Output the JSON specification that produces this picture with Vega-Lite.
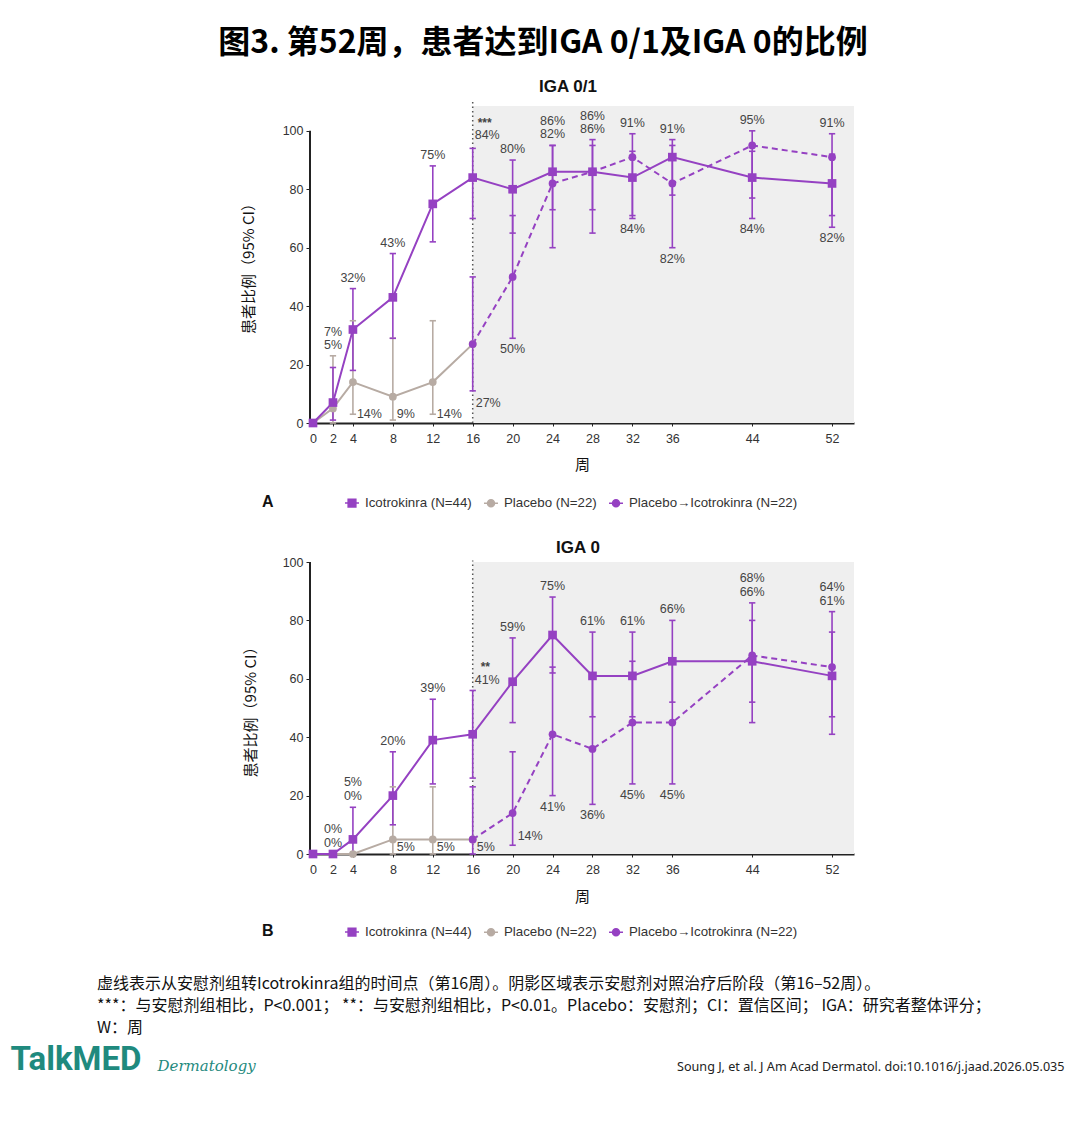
{
  "$schema": "https://vega.github.io/schema/vega-lite/v6.json",
  "background": "white",
  "padding": {"left": 10, "top": 26, "right": 10, "bottom": 10},
  "title": {"text": "图3. 第52周，患者达到IGA 0/1及IGA 0的比例", "font": "Noto Sans CJK SC", "fontSize": 32, "fontWeight": "bold", "color": "#000", "anchor": "middle", "offset": 18, "dx": 6},
  "datasets": {
    "ptsA": [
      {"group": "Placebo (N=22)", "week": 0, "value": 0, "lo": 0, "hi": 0},
      {"group": "Placebo (N=22)", "week": 2, "value": 5, "lo": 0, "hi": 23, "label": "5%", "place": "above", "line": 0},
      {"group": "Placebo (N=22)", "week": 4, "value": 14, "lo": 3, "hi": 35, "label": "14%", "place": "right", "line": 0},
      {"group": "Placebo (N=22)", "week": 8, "value": 9, "lo": 1, "hi": 29, "label": "9%", "place": "right", "line": 0},
      {"group": "Placebo (N=22)", "week": 12, "value": 14, "lo": 3, "hi": 35, "label": "14%", "place": "right", "line": 0},
      {"group": "Placebo (N=22)", "week": 16, "value": 27},
      {"group": "Icotrokinra (N=44)", "week": 0, "value": 0, "lo": 0, "hi": 0},
      {"group": "Icotrokinra (N=44)", "week": 2, "value": 7, "lo": 1, "hi": 19, "label": "7%", "place": "above", "line": 1},
      {"group": "Icotrokinra (N=44)", "week": 4, "value": 32, "lo": 18, "hi": 46, "label": "32%", "place": "above", "line": 0},
      {"group": "Icotrokinra (N=44)", "week": 8, "value": 43, "lo": 29, "hi": 58, "label": "43%", "place": "above", "line": 0},
      {"group": "Icotrokinra (N=44)", "week": 12, "value": 75, "lo": 62, "hi": 88, "label": "75%", "place": "above", "line": 0},
      {"group": "Icotrokinra (N=44)", "week": 16, "value": 84, "lo": 70, "hi": 94, "label": "84%", "place": "topright", "line": 0, "sig": "***"},
      {"group": "Icotrokinra (N=44)", "week": 20, "value": 80, "lo": 65, "hi": 90, "label": "80%", "place": "above", "line": 0},
      {"group": "Icotrokinra (N=44)", "week": 24, "value": 86, "lo": 73, "hi": 95, "label": "86%", "place": "above", "line": 1},
      {"group": "Icotrokinra (N=44)", "week": 28, "value": 86, "lo": 73, "hi": 95, "label": "86%", "place": "above", "line": 1},
      {"group": "Icotrokinra (N=44)", "week": 32, "value": 84, "lo": 70, "hi": 93, "label": "84%", "place": "below", "line": 0},
      {"group": "Icotrokinra (N=44)", "week": 36, "value": 91, "lo": 78, "hi": 97, "label": "91%", "place": "above", "line": 0},
      {"group": "Icotrokinra (N=44)", "week": 44, "value": 84, "lo": 70, "hi": 93, "label": "84%", "place": "below", "line": 0},
      {"group": "Icotrokinra (N=44)", "week": 52, "value": 82, "lo": 67, "hi": 92, "label": "82%", "place": "below", "line": 0},
      {"group": "Placebo→Icotrokinra (N=22)", "week": 16, "value": 27, "lo": 11, "hi": 50, "label": "27%", "place": "right", "line": 1},
      {"group": "Placebo→Icotrokinra (N=22)", "week": 20, "value": 50, "lo": 29, "hi": 71, "label": "50%", "place": "below", "line": 0},
      {"group": "Placebo→Icotrokinra (N=22)", "week": 24, "value": 82, "lo": 60, "hi": 95, "label": "82%", "place": "above", "line": 0},
      {"group": "Placebo→Icotrokinra (N=22)", "week": 28, "value": 86, "lo": 65, "hi": 97, "label": "86%", "place": "above", "line": 0},
      {"group": "Placebo→Icotrokinra (N=22)", "week": 32, "value": 91, "lo": 71, "hi": 99, "label": "91%", "place": "above", "line": 0},
      {"group": "Placebo→Icotrokinra (N=22)", "week": 36, "value": 82, "lo": 60, "hi": 95, "label": "82%", "place": "below", "line": 0},
      {"group": "Placebo→Icotrokinra (N=22)", "week": 44, "value": 95, "lo": 77, "hi": 100, "label": "95%", "place": "above", "line": 0},
      {"group": "Placebo→Icotrokinra (N=22)", "week": 52, "value": 91, "lo": 71, "hi": 99, "label": "91%", "place": "above", "line": 0}
    ],
    "ptsB": [
      {"group": "Placebo (N=22)", "week": 0, "value": 0, "lo": 0, "hi": 0},
      {"group": "Placebo (N=22)", "week": 2, "value": 0, "lo": 0, "hi": 0, "label": "0%", "place": "above", "line": 0},
      {"group": "Placebo (N=22)", "week": 4, "value": 0, "lo": 0, "hi": 0, "label": "0%", "place": "above", "line": 0},
      {"group": "Placebo (N=22)", "week": 8, "value": 5, "lo": 0, "hi": 23, "label": "5%", "place": "right", "line": 0},
      {"group": "Placebo (N=22)", "week": 12, "value": 5, "lo": 0, "hi": 23, "label": "5%", "place": "right", "line": 0},
      {"group": "Placebo (N=22)", "week": 16, "value": 5},
      {"group": "Icotrokinra (N=44)", "week": 0, "value": 0, "lo": 0, "hi": 0},
      {"group": "Icotrokinra (N=44)", "week": 2, "value": 0, "lo": 0, "hi": 0, "label": "0%", "place": "above", "line": 1},
      {"group": "Icotrokinra (N=44)", "week": 4, "value": 5, "lo": 0, "hi": 16, "label": "5%", "place": "above", "line": 1},
      {"group": "Icotrokinra (N=44)", "week": 8, "value": 20, "lo": 10, "hi": 35, "label": "20%", "place": "above", "line": 0},
      {"group": "Icotrokinra (N=44)", "week": 12, "value": 39, "lo": 24, "hi": 53, "label": "39%", "place": "above", "line": 0},
      {"group": "Icotrokinra (N=44)", "week": 16, "value": 41, "lo": 26, "hi": 56, "label": "41%", "place": "topright", "line": 0, "sig": "**"},
      {"group": "Icotrokinra (N=44)", "week": 20, "value": 59, "lo": 45, "hi": 74, "label": "59%", "place": "above", "line": 0},
      {"group": "Icotrokinra (N=44)", "week": 24, "value": 75, "lo": 62, "hi": 88, "label": "75%", "place": "above", "line": 0},
      {"group": "Icotrokinra (N=44)", "week": 28, "value": 61, "lo": 47, "hi": 76, "label": "61%", "place": "above", "line": 0},
      {"group": "Icotrokinra (N=44)", "week": 32, "value": 61, "lo": 47, "hi": 76, "label": "61%", "place": "above", "line": 0},
      {"group": "Icotrokinra (N=44)", "week": 36, "value": 66, "lo": 52, "hi": 80, "label": "66%", "place": "above", "line": 0},
      {"group": "Icotrokinra (N=44)", "week": 44, "value": 66, "lo": 52, "hi": 80, "label": "66%", "place": "above", "line": 0},
      {"group": "Icotrokinra (N=44)", "week": 52, "value": 61, "lo": 47, "hi": 76, "label": "61%", "place": "above", "line": 0},
      {"group": "Placebo→Icotrokinra (N=22)", "week": 16, "value": 5, "lo": 0, "hi": 23, "label": "5%", "place": "right", "line": 0},
      {"group": "Placebo→Icotrokinra (N=22)", "week": 20, "value": 14, "lo": 3, "hi": 35, "label": "14%", "place": "right", "line": 1},
      {"group": "Placebo→Icotrokinra (N=22)", "week": 24, "value": 41, "lo": 20, "hi": 64, "label": "41%", "place": "below", "line": 0},
      {"group": "Placebo→Icotrokinra (N=22)", "week": 28, "value": 36, "lo": 17, "hi": 60, "label": "36%", "place": "below", "line": 0},
      {"group": "Placebo→Icotrokinra (N=22)", "week": 32, "value": 45, "lo": 24, "hi": 66, "label": "45%", "place": "below", "line": 0},
      {"group": "Placebo→Icotrokinra (N=22)", "week": 36, "value": 45, "lo": 24, "hi": 66, "label": "45%", "place": "below", "line": 0},
      {"group": "Placebo→Icotrokinra (N=22)", "week": 44, "value": 68, "lo": 45, "hi": 86, "label": "68%", "place": "above", "line": 1},
      {"group": "Placebo→Icotrokinra (N=22)", "week": 52, "value": 64, "lo": 41, "hi": 83, "label": "64%", "place": "above", "line": 1}
    ]
  },
  "vconcat": [
    {
      "title": {"text": "IGA 0/1", "font": "Liberation Sans", "fontSize": 17, "fontWeight": "bold", "color": "#111", "offset": 5, "dx": -14},
      "width": 544,
      "height": 317,
      "layer": [
        {
          "data": {"values": [{}]},
          "mark": {"type": "rect", "color": "#efefef"},
          "encoding": {
            "x": {"datum": 16, "type": "quantitative", "scale": {"domain": [-0.3, 54.2], "nice": false, "zero": false}},
            "x2": {"datum": 54.2},
            "y": {"datum": 0, "type": "quantitative", "scale": {"domain": [0, 108.5], "nice": false}},
            "y2": {"datum": 108.5}
          }
        },
        {
          "data": {"values": [{}]},
          "mark": {"type": "rule", "color": "#555", "strokeWidth": 1.5, "strokeDash": [1.5, 3]},
          "encoding": {
            "x": {"datum": 16, "type": "quantitative", "scale": {"domain": [-0.3, 54.2], "nice": false, "zero": false}},
            "y": {"datum": 0, "type": "quantitative", "scale": {"domain": [0, 108.5], "nice": false}},
            "y2": {"datum": 110}
          }
        },
        {
          "data": {"values": [{}]},
          "mark": {"type": "rule", "color": "#222", "strokeWidth": 2},
          "encoding": {
            "x": {"datum": -0.3, "type": "quantitative", "scale": {"domain": [-0.3, 54.2], "nice": false, "zero": false}},
            "y": {"datum": 0, "type": "quantitative", "scale": {"domain": [0, 108.5], "nice": false}},
            "y2": {"datum": 100}
          }
        },
        {
          "data": {"name": "ptsA"},
          "transform": [{"filter": "datum.hi > datum.lo"}],
          "mark": {"type": "rule", "strokeWidth": 1.6},
          "encoding": {
            "x": {"field": "week", "type": "quantitative", "scale": {"domain": [-0.3, 54.2], "nice": false, "zero": false},
              "axis": {"values": [0, 2, 4, 8, 12, 16, 20, 24, 28, 32, 36, 44, 52], "title": "周", "titleFont": "Noto Sans CJK SC", "titleFontSize": 15, "titleFontWeight": "normal", "titleColor": "#111", "titlePadding": 13, "labelFont": "Liberation Sans", "labelFontSize": 12.5, "labelColor": "#333", "labelPadding": 6, "labelFlush": false, "domainColor": "#222", "domainWidth": 2, "tickColor": "#222", "tickSize": 3, "grid": false}},
            "y": {"field": "lo", "type": "quantitative", "scale": {"domain": [0, 108.5], "nice": false},
              "axis": {"values": [0, 20, 40, 60, 80, 100], "title": "患者比例（95% CI）", "titleFont": "Noto Sans CJK SC", "titleFontSize": 15, "titleFontWeight": "normal", "titleColor": "#111", "titlePadding": 26, "labelFont": "Liberation Sans", "labelFontSize": 12.5, "labelColor": "#333", "labelPadding": 3, "labelFlush": false, "domain": false, "tickColor": "#222", "tickSize": 4, "grid": false}},
            "y2": {"field": "hi"},
            "color": {"field": "group", "type": "nominal", "scale": {"domain": ["Icotrokinra (N=44)", "Placebo (N=22)", "Placebo→Icotrokinra (N=22)"], "range": ["#9541c2", "#b7aba3", "#9541c2"]}}
          }
        },
        {
          "data": {"name": "ptsA"},
          "transform": [{"filter": "datum.hi > datum.lo"}, {"fold": ["lo", "hi"], "as": ["end", "cap"]}],
          "mark": {"type": "point", "shape": "stroke", "size": 40, "strokeWidth": 1.6, "filled": false, "opacity": 1},
          "encoding": {
            "x": {"field": "week", "type": "quantitative", "scale": {"domain": [-0.3, 54.2], "nice": false, "zero": false}},
            "y": {"field": "cap", "type": "quantitative", "scale": {"domain": [0, 108.5], "nice": false}},
            "color": {"field": "group", "type": "nominal", "scale": {"domain": ["Icotrokinra (N=44)", "Placebo (N=22)", "Placebo→Icotrokinra (N=22)"], "range": ["#9541c2", "#b7aba3", "#9541c2"]}}
          }
        },
        {
          "data": {"name": "ptsA"},
          "transform": [{"filter": "datum.group !== 'Placebo→Icotrokinra (N=22)'"}],
          "mark": {"type": "line", "strokeWidth": 2},
          "encoding": {
            "x": {"field": "week", "type": "quantitative", "scale": {"domain": [-0.3, 54.2], "nice": false, "zero": false}},
            "y": {"field": "value", "type": "quantitative", "scale": {"domain": [0, 108.5], "nice": false}},
            "color": {"field": "group", "type": "nominal", "scale": {"domain": ["Icotrokinra (N=44)", "Placebo (N=22)", "Placebo→Icotrokinra (N=22)"], "range": ["#9541c2", "#b7aba3", "#9541c2"]}}
          }
        },
        {
          "data": {"name": "ptsA"},
          "transform": [{"filter": "datum.group === 'Placebo→Icotrokinra (N=22)'"}],
          "mark": {"type": "line", "strokeWidth": 2, "strokeDash": [6, 4]},
          "encoding": {
            "x": {"field": "week", "type": "quantitative", "scale": {"domain": [-0.3, 54.2], "nice": false, "zero": false}},
            "y": {"field": "value", "type": "quantitative", "scale": {"domain": [0, 108.5], "nice": false}},
            "color": {"field": "group", "type": "nominal", "scale": {"domain": ["Icotrokinra (N=44)", "Placebo (N=22)", "Placebo→Icotrokinra (N=22)"], "range": ["#9541c2", "#b7aba3", "#9541c2"]}}
          }
        },
        {
          "data": {"name": "ptsA"},
          "transform": [{"filter": "datum.group !== 'Icotrokinra (N=44)'"}],
          "mark": {"type": "point", "shape": "circle", "filled": true, "size": 60, "opacity": 1},
          "encoding": {
            "x": {"field": "week", "type": "quantitative", "scale": {"domain": [-0.3, 54.2], "nice": false, "zero": false}},
            "y": {"field": "value", "type": "quantitative", "scale": {"domain": [0, 108.5], "nice": false}},
            "color": {"field": "group", "type": "nominal", "scale": {"domain": ["Icotrokinra (N=44)", "Placebo (N=22)", "Placebo→Icotrokinra (N=22)"], "range": ["#9541c2", "#b7aba3", "#9541c2"]},
              "legend": {"title": "A", "orient": "none", "legendX": -48, "legendY": 389, "direction": "horizontal", "titleOrient": "left", "titleFont": "Liberation Sans", "titleFontSize": 16, "titleFontWeight": "bold", "titleColor": "#111", "titlePadding": 70, "titleBaseline": "middle", "labelFont": "Liberation Sans", "labelFontSize": 13.3, "labelColor": "#333", "labelOffset": 5, "labelLimit": 300, "columnPadding": 9, "symbolSize": 196, "symbolStrokeWidth": 1.5, "symbolType": "M-1,0L1,0M0.5,0A0.5,0.5,0,1,1,-0.5,0A0.5,0.5,0,1,1,0.5,0Z",
                "encoding": {"symbols": {
                  "shape": {"condition": {"test": "datum.value === 'Icotrokinra (N=44)'", "value": "M-1,0L1,0M-0.55,-0.55L0.55,-0.55L0.55,0.55L-0.55,0.55Z"}, "value": "M-1,0L1,0M0.5,0A0.5,0.5,0,1,1,-0.5,0A0.5,0.5,0,1,1,0.5,0Z"},
                  "fill": {"condition": {"test": "datum.value === 'Placebo (N=22)'", "value": "#b7aba3"}, "value": "#9541c2"},
                  "stroke": {"condition": {"test": "datum.value === 'Placebo (N=22)'", "value": "#b7aba3"}, "value": "#9541c2"},
                  "opacity": {"value": 1}
                }}}}
          }
        },
        {
          "data": {"name": "ptsA"},
          "transform": [{"filter": "datum.group === 'Icotrokinra (N=44)'"}],
          "mark": {"type": "point", "shape": "square", "filled": true, "size": 75, "opacity": 1},
          "encoding": {
            "x": {"field": "week", "type": "quantitative", "scale": {"domain": [-0.3, 54.2], "nice": false, "zero": false}},
            "y": {"field": "value", "type": "quantitative", "scale": {"domain": [0, 108.5], "nice": false}},
            "color": {"field": "group", "type": "nominal", "scale": {"domain": ["Icotrokinra (N=44)", "Placebo (N=22)", "Placebo→Icotrokinra (N=22)"], "range": ["#9541c2", "#b7aba3", "#9541c2"]}}
          }
        },
        {
          "data": {"name": "ptsA"},
          "transform": [{"joinaggregate": [{"op": "max", "field": "hi", "as": "top"}], "groupby": ["week"]}, {"filter": "datum.place === 'above' && datum.line === 0"}],
          "mark": {"type": "text", "font": "Liberation Sans", "fontSize": 12.5, "color": "#444", "baseline": "middle", "dy": -11},
          "encoding": {
            "x": {"field": "week", "type": "quantitative", "scale": {"domain": [-0.3, 54.2], "nice": false, "zero": false}},
            "y": {"field": "top", "type": "quantitative", "scale": {"domain": [0, 108.5], "nice": false}},
            "text": {"field": "label"}
          }
        },
        {
          "data": {"name": "ptsA"},
          "transform": [{"joinaggregate": [{"op": "max", "field": "hi", "as": "top"}], "groupby": ["week"]}, {"filter": "datum.place === 'above' && datum.line === 1"}],
          "mark": {"type": "text", "font": "Liberation Sans", "fontSize": 12.5, "color": "#444", "baseline": "middle", "dy": -24},
          "encoding": {
            "x": {"field": "week", "type": "quantitative", "scale": {"domain": [-0.3, 54.2], "nice": false, "zero": false}},
            "y": {"field": "top", "type": "quantitative", "scale": {"domain": [0, 108.5], "nice": false}},
            "text": {"field": "label"}
          }
        },
        {
          "data": {"name": "ptsA"},
          "transform": [{"joinaggregate": [{"op": "min", "field": "lo", "as": "bottom"}], "groupby": ["week"]}, {"filter": "datum.place === 'below'"}],
          "mark": {"type": "text", "font": "Liberation Sans", "fontSize": 12.5, "color": "#444", "baseline": "middle", "dy": 11},
          "encoding": {
            "x": {"field": "week", "type": "quantitative", "scale": {"domain": [-0.3, 54.2], "nice": false, "zero": false}},
            "y": {"field": "bottom", "type": "quantitative", "scale": {"domain": [0, 108.5], "nice": false}},
            "text": {"field": "label"}
          }
        },
        {
          "data": {"name": "ptsA"},
          "transform": [{"filter": "datum.place === 'right' && datum.line === 0"}],
          "mark": {"type": "text", "font": "Liberation Sans", "fontSize": 12.5, "color": "#444", "baseline": "middle", "align": "left", "dx": 4, "dy": -9},
          "encoding": {
            "x": {"field": "week", "type": "quantitative", "scale": {"domain": [-0.3, 54.2], "nice": false, "zero": false}},
            "y": {"datum": 0, "type": "quantitative", "scale": {"domain": [0, 108.5], "nice": false}},
            "text": {"field": "label"}
          }
        },
        {
          "data": {"name": "ptsA"},
          "transform": [{"filter": "datum.place === 'right' && datum.line === 1"}],
          "mark": {"type": "text", "font": "Liberation Sans", "fontSize": 12.5, "color": "#444", "baseline": "middle", "align": "left", "dx": 3, "dy": -20},
          "encoding": {
            "x": {"field": "week", "type": "quantitative", "scale": {"domain": [-0.3, 54.2], "nice": false, "zero": false}},
            "y": {"datum": 0, "type": "quantitative", "scale": {"domain": [0, 108.5], "nice": false}},
            "text": {"field": "label"}
          }
        },
        {
          "data": {"name": "ptsA"},
          "transform": [{"joinaggregate": [{"op": "max", "field": "hi", "as": "top"}], "groupby": ["week"]}, {"filter": "datum.place === 'topright'"}],
          "mark": {"type": "text", "font": "Liberation Sans", "fontSize": 12.5, "color": "#444", "baseline": "middle", "align": "left", "dx": 2, "dy": -13},
          "encoding": {
            "x": {"field": "week", "type": "quantitative", "scale": {"domain": [-0.3, 54.2], "nice": false, "zero": false}},
            "y": {"field": "top", "type": "quantitative", "scale": {"domain": [0, 108.5], "nice": false}},
            "text": {"field": "label"}
          }
        },
        {
          "data": {"name": "ptsA"},
          "transform": [{"joinaggregate": [{"op": "max", "field": "hi", "as": "top"}], "groupby": ["week"]}, {"filter": "isValid(datum.sig)"}],
          "mark": {"type": "text", "font": "Liberation Sans", "fontSize": 12, "fontWeight": "bold", "color": "#444", "baseline": "middle", "align": "left", "dx": 5, "dy": -25},
          "encoding": {
            "x": {"field": "week", "type": "quantitative", "scale": {"domain": [-0.3, 54.2], "nice": false, "zero": false}},
            "y": {"field": "top", "type": "quantitative", "scale": {"domain": [0, 108.5], "nice": false}},
            "text": {"field": "sig"}
          }
        }
      ]
    },
    {
      "title": {"text": "IGA 0", "font": "Liberation Sans", "fontSize": 17, "fontWeight": "bold", "color": "#111", "offset": -1, "dx": -4},
      "width": 544,
      "height": 292,
      "layer": [
        {
          "data": {"values": [{}]},
          "mark": {"type": "rect", "color": "#efefef"},
          "encoding": {
            "x": {"datum": 16, "type": "quantitative", "scale": {"domain": [-0.3, 54.2], "nice": false, "zero": false}},
            "x2": {"datum": 54.2},
            "y": {"datum": 0, "type": "quantitative", "scale": {"domain": [0, 100], "nice": false}},
            "y2": {"datum": 100}
          }
        },
        {
          "data": {"values": [{}]},
          "mark": {"type": "rule", "color": "#555", "strokeWidth": 1.5, "strokeDash": [1.5, 3]},
          "encoding": {
            "x": {"datum": 16, "type": "quantitative", "scale": {"domain": [-0.3, 54.2], "nice": false, "zero": false}},
            "y": {"datum": 0, "type": "quantitative", "scale": {"domain": [0, 100], "nice": false}},
            "y2": {"datum": 100.5}
          }
        },
        {
          "data": {"values": [{}]},
          "mark": {"type": "rule", "color": "#222", "strokeWidth": 2},
          "encoding": {
            "x": {"datum": -0.3, "type": "quantitative", "scale": {"domain": [-0.3, 54.2], "nice": false, "zero": false}},
            "y": {"datum": 0, "type": "quantitative", "scale": {"domain": [0, 100], "nice": false}},
            "y2": {"datum": 100}
          }
        },
        {
          "data": {"name": "ptsB"},
          "transform": [{"filter": "datum.hi > datum.lo"}],
          "mark": {"type": "rule", "strokeWidth": 1.6},
          "encoding": {
            "x": {"field": "week", "type": "quantitative", "scale": {"domain": [-0.3, 54.2], "nice": false, "zero": false},
              "axis": {"values": [0, 2, 4, 8, 12, 16, 20, 24, 28, 32, 36, 44, 52], "title": "周", "titleFont": "Noto Sans CJK SC", "titleFontSize": 15, "titleFontWeight": "normal", "titleColor": "#111", "titlePadding": 14, "labelFont": "Liberation Sans", "labelFontSize": 12.5, "labelColor": "#333", "labelPadding": 6, "labelFlush": false, "domainColor": "#222", "domainWidth": 2, "tickColor": "#222", "tickSize": 3, "grid": false}},
            "y": {"field": "lo", "type": "quantitative", "scale": {"domain": [0, 100], "nice": false},
              "axis": {"values": [0, 20, 40, 60, 80, 100], "title": "患者比例（95% CI）", "titleFont": "Noto Sans CJK SC", "titleFontSize": 15, "titleFontWeight": "normal", "titleColor": "#111", "titlePadding": 24, "labelFont": "Liberation Sans", "labelFontSize": 12.5, "labelColor": "#333", "labelPadding": 3, "labelFlush": false, "domain": false, "tickColor": "#222", "tickSize": 4, "grid": false}},
            "y2": {"field": "hi"},
            "color": {"field": "group", "type": "nominal", "scale": {"domain": ["Icotrokinra (N=44)", "Placebo (N=22)", "Placebo→Icotrokinra (N=22)"], "range": ["#9541c2", "#b7aba3", "#9541c2"]}}
          }
        },
        {
          "data": {"name": "ptsB"},
          "transform": [{"filter": "datum.hi > datum.lo"}, {"fold": ["lo", "hi"], "as": ["end", "cap"]}],
          "mark": {"type": "point", "shape": "stroke", "size": 40, "strokeWidth": 1.6, "filled": false, "opacity": 1},
          "encoding": {
            "x": {"field": "week", "type": "quantitative", "scale": {"domain": [-0.3, 54.2], "nice": false, "zero": false}},
            "y": {"field": "cap", "type": "quantitative", "scale": {"domain": [0, 100], "nice": false}},
            "color": {"field": "group", "type": "nominal", "scale": {"domain": ["Icotrokinra (N=44)", "Placebo (N=22)", "Placebo→Icotrokinra (N=22)"], "range": ["#9541c2", "#b7aba3", "#9541c2"]}}
          }
        },
        {
          "data": {"name": "ptsB"},
          "transform": [{"filter": "datum.group !== 'Placebo→Icotrokinra (N=22)'"}],
          "mark": {"type": "line", "strokeWidth": 2},
          "encoding": {
            "x": {"field": "week", "type": "quantitative", "scale": {"domain": [-0.3, 54.2], "nice": false, "zero": false}},
            "y": {"field": "value", "type": "quantitative", "scale": {"domain": [0, 100], "nice": false}},
            "color": {"field": "group", "type": "nominal", "scale": {"domain": ["Icotrokinra (N=44)", "Placebo (N=22)", "Placebo→Icotrokinra (N=22)"], "range": ["#9541c2", "#b7aba3", "#9541c2"]}}
          }
        },
        {
          "data": {"name": "ptsB"},
          "transform": [{"filter": "datum.group === 'Placebo→Icotrokinra (N=22)'"}],
          "mark": {"type": "line", "strokeWidth": 2, "strokeDash": [6, 4]},
          "encoding": {
            "x": {"field": "week", "type": "quantitative", "scale": {"domain": [-0.3, 54.2], "nice": false, "zero": false}},
            "y": {"field": "value", "type": "quantitative", "scale": {"domain": [0, 100], "nice": false}},
            "color": {"field": "group", "type": "nominal", "scale": {"domain": ["Icotrokinra (N=44)", "Placebo (N=22)", "Placebo→Icotrokinra (N=22)"], "range": ["#9541c2", "#b7aba3", "#9541c2"]}}
          }
        },
        {
          "data": {"name": "ptsB"},
          "transform": [{"filter": "datum.group !== 'Icotrokinra (N=44)'"}],
          "mark": {"type": "point", "shape": "circle", "filled": true, "size": 60, "opacity": 1},
          "encoding": {
            "x": {"field": "week", "type": "quantitative", "scale": {"domain": [-0.3, 54.2], "nice": false, "zero": false}},
            "y": {"field": "value", "type": "quantitative", "scale": {"domain": [0, 100], "nice": false}},
            "color": {"field": "group", "type": "nominal", "scale": {"domain": ["Icotrokinra (N=44)", "Placebo (N=22)", "Placebo→Icotrokinra (N=22)"], "range": ["#9541c2", "#b7aba3", "#9541c2"]},
              "legend": {"title": "B", "orient": "none", "legendX": -56, "legendY": 354, "padding": 8, "direction": "horizontal", "titleOrient": "left", "titleFont": "Liberation Sans", "titleFontSize": 16, "titleFontWeight": "bold", "titleColor": "#111", "titlePadding": 70, "titleBaseline": "middle", "labelFont": "Liberation Sans", "labelFontSize": 13.3, "labelColor": "#333", "labelOffset": 5, "labelLimit": 300, "columnPadding": 9, "symbolSize": 196, "symbolStrokeWidth": 1.5, "symbolType": "M-1,0L1,0M0.5,0A0.5,0.5,0,1,1,-0.5,0A0.5,0.5,0,1,1,0.5,0Z",
                "encoding": {"symbols": {
                  "shape": {"condition": {"test": "datum.value === 'Icotrokinra (N=44)'", "value": "M-1,0L1,0M-0.55,-0.55L0.55,-0.55L0.55,0.55L-0.55,0.55Z"}, "value": "M-1,0L1,0M0.5,0A0.5,0.5,0,1,1,-0.5,0A0.5,0.5,0,1,1,0.5,0Z"},
                  "fill": {"condition": {"test": "datum.value === 'Placebo (N=22)'", "value": "#b7aba3"}, "value": "#9541c2"},
                  "stroke": {"condition": {"test": "datum.value === 'Placebo (N=22)'", "value": "#b7aba3"}, "value": "#9541c2"},
                  "opacity": {"value": 1}
                }}}}
          }
        },
        {
          "data": {"name": "ptsB"},
          "transform": [{"filter": "datum.group === 'Icotrokinra (N=44)'"}],
          "mark": {"type": "point", "shape": "square", "filled": true, "size": 75, "opacity": 1},
          "encoding": {
            "x": {"field": "week", "type": "quantitative", "scale": {"domain": [-0.3, 54.2], "nice": false, "zero": false}},
            "y": {"field": "value", "type": "quantitative", "scale": {"domain": [0, 100], "nice": false}},
            "color": {"field": "group", "type": "nominal", "scale": {"domain": ["Icotrokinra (N=44)", "Placebo (N=22)", "Placebo→Icotrokinra (N=22)"], "range": ["#9541c2", "#b7aba3", "#9541c2"]}}
          }
        },
        {
          "data": {"name": "ptsB"},
          "transform": [{"joinaggregate": [{"op": "max", "field": "hi", "as": "top"}], "groupby": ["week"]}, {"filter": "datum.place === 'above' && datum.line === 0"}],
          "mark": {"type": "text", "font": "Liberation Sans", "fontSize": 12.5, "color": "#444", "baseline": "middle", "dy": -11},
          "encoding": {
            "x": {"field": "week", "type": "quantitative", "scale": {"domain": [-0.3, 54.2], "nice": false, "zero": false}},
            "y": {"field": "top", "type": "quantitative", "scale": {"domain": [0, 100], "nice": false}},
            "text": {"field": "label"}
          }
        },
        {
          "data": {"name": "ptsB"},
          "transform": [{"joinaggregate": [{"op": "max", "field": "hi", "as": "top"}], "groupby": ["week"]}, {"filter": "datum.place === 'above' && datum.line === 1"}],
          "mark": {"type": "text", "font": "Liberation Sans", "fontSize": 12.5, "color": "#444", "baseline": "middle", "dy": -25},
          "encoding": {
            "x": {"field": "week", "type": "quantitative", "scale": {"domain": [-0.3, 54.2], "nice": false, "zero": false}},
            "y": {"field": "top", "type": "quantitative", "scale": {"domain": [0, 100], "nice": false}},
            "text": {"field": "label"}
          }
        },
        {
          "data": {"name": "ptsB"},
          "transform": [{"joinaggregate": [{"op": "min", "field": "lo", "as": "bottom"}], "groupby": ["week"]}, {"filter": "datum.place === 'below'"}],
          "mark": {"type": "text", "font": "Liberation Sans", "fontSize": 12.5, "color": "#444", "baseline": "middle", "dy": 11},
          "encoding": {
            "x": {"field": "week", "type": "quantitative", "scale": {"domain": [-0.3, 54.2], "nice": false, "zero": false}},
            "y": {"field": "bottom", "type": "quantitative", "scale": {"domain": [0, 100], "nice": false}},
            "text": {"field": "label"}
          }
        },
        {
          "data": {"name": "ptsB"},
          "transform": [{"filter": "datum.place === 'right' && datum.line === 0"}],
          "mark": {"type": "text", "font": "Liberation Sans", "fontSize": 12.5, "color": "#444", "baseline": "middle", "align": "left", "dx": 4, "dy": -7},
          "encoding": {
            "x": {"field": "week", "type": "quantitative", "scale": {"domain": [-0.3, 54.2], "nice": false, "zero": false}},
            "y": {"datum": 0, "type": "quantitative", "scale": {"domain": [0, 100], "nice": false}},
            "text": {"field": "label"}
          }
        },
        {
          "data": {"name": "ptsB"},
          "transform": [{"filter": "datum.place === 'right' && datum.line === 1"}],
          "mark": {"type": "text", "font": "Liberation Sans", "fontSize": 12.5, "color": "#444", "baseline": "middle", "align": "left", "dx": 5, "dy": -18},
          "encoding": {
            "x": {"field": "week", "type": "quantitative", "scale": {"domain": [-0.3, 54.2], "nice": false, "zero": false}},
            "y": {"datum": 0, "type": "quantitative", "scale": {"domain": [0, 100], "nice": false}},
            "text": {"field": "label"}
          }
        },
        {
          "data": {"name": "ptsB"},
          "transform": [{"joinaggregate": [{"op": "max", "field": "hi", "as": "top"}], "groupby": ["week"]}, {"filter": "datum.place === 'topright'"}],
          "mark": {"type": "text", "font": "Liberation Sans", "fontSize": 12.5, "color": "#444", "baseline": "middle", "align": "left", "dx": 2, "dy": -10},
          "encoding": {
            "x": {"field": "week", "type": "quantitative", "scale": {"domain": [-0.3, 54.2], "nice": false, "zero": false}},
            "y": {"field": "top", "type": "quantitative", "scale": {"domain": [0, 100], "nice": false}},
            "text": {"field": "label"}
          }
        },
        {
          "data": {"name": "ptsB"},
          "transform": [{"joinaggregate": [{"op": "max", "field": "hi", "as": "top"}], "groupby": ["week"]}, {"filter": "isValid(datum.sig)"}],
          "mark": {"type": "text", "font": "Liberation Sans", "fontSize": 12, "fontWeight": "bold", "color": "#444", "baseline": "middle", "align": "left", "dx": 8, "dy": -23},
          "encoding": {
            "x": {"field": "week", "type": "quantitative", "scale": {"domain": [-0.3, 54.2], "nice": false, "zero": false}},
            "y": {"field": "top", "type": "quantitative", "scale": {"domain": [0, 100], "nice": false}},
            "text": {"field": "sig"}
          }
        }
      ]
    },
    {
      "width": 754,
      "height": 1,
      "title": {"text": ["虚线表示从安慰剂组转Icotrokinra组的时间点（第16周）。阴影区域表示安慰剂对照治疗后阶段（第16–52周）。", "***：与安慰剂组相比，P<0.001；  **：与安慰剂组相比，P<0.01。Placebo：安慰剂；CI：置信区间；  IGA：研究者整体评分；", "W：周"], "anchor": "start", "frame": "group", "dx": -213, "font": "Noto Sans CJK SC", "fontSize": 16, "fontWeight": "normal", "color": "#111", "lineHeight": 22, "offset": 2},
      "layer": [
        {
          "data": {"values": []},
          "mark": "point",
          "encoding": {
            "x": {"field": "k", "type": "quantitative", "scale": {"domain": [0, 1]},
              "axis": {"title": "Soung J, et al. J Am Acad Dermatol. doi:10.1016/j.jaad.2026.05.035", "titleAnchor": "end", "titleY": 31, "titleBaseline": "alphabetic", "titleFont": "Noto Sans", "titleFontSize": 12.6, "titleFontWeight": "normal", "titleColor": "#222", "domain": false, "ticks": false, "labels": false, "grid": false}},
            "y": {"field": "k", "type": "quantitative", "scale": {"domain": [0, 1]},
              "axis": {"title": "TalkMED", "titleAngle": 0, "titleX": -300, "titleY": 31, "titleAlign": "left", "titleBaseline": "alphabetic", "titleFont": "Roboto", "titleFontSize": 33, "titleFontWeight": "bold", "titleColor": "#1f8a7e", "domain": false, "ticks": false, "labels": false, "grid": false}}
          }
        },
        {
          "data": {"values": []},
          "mark": "point",
          "encoding": {
            "y": {"field": "k2", "type": "quantitative", "scale": {"domain": [0, 1]},
              "axis": {"orient": "right", "title": "Dermatology", "titleAngle": 0, "titleX": -907, "titleY": 32, "titleAlign": "left", "titleBaseline": "alphabetic", "titleFont": "DejaVu Serif", "titleFontStyle": "italic", "titleFontSize": 15, "titleFontWeight": "normal", "titleColor": "#1f8a7e", "domain": false, "ticks": false, "labels": false, "grid": false}}
          }
        }
      ],
      "resolve": {"scale": {"y": "independent"}}
    }
  ],
  "spacing": 29,
  "resolve": {"scale": {"color": "independent"}, "legend": {"color": "independent"}},
  "config": {"view": {"stroke": null}, "axis": {"grid": false}}
}
